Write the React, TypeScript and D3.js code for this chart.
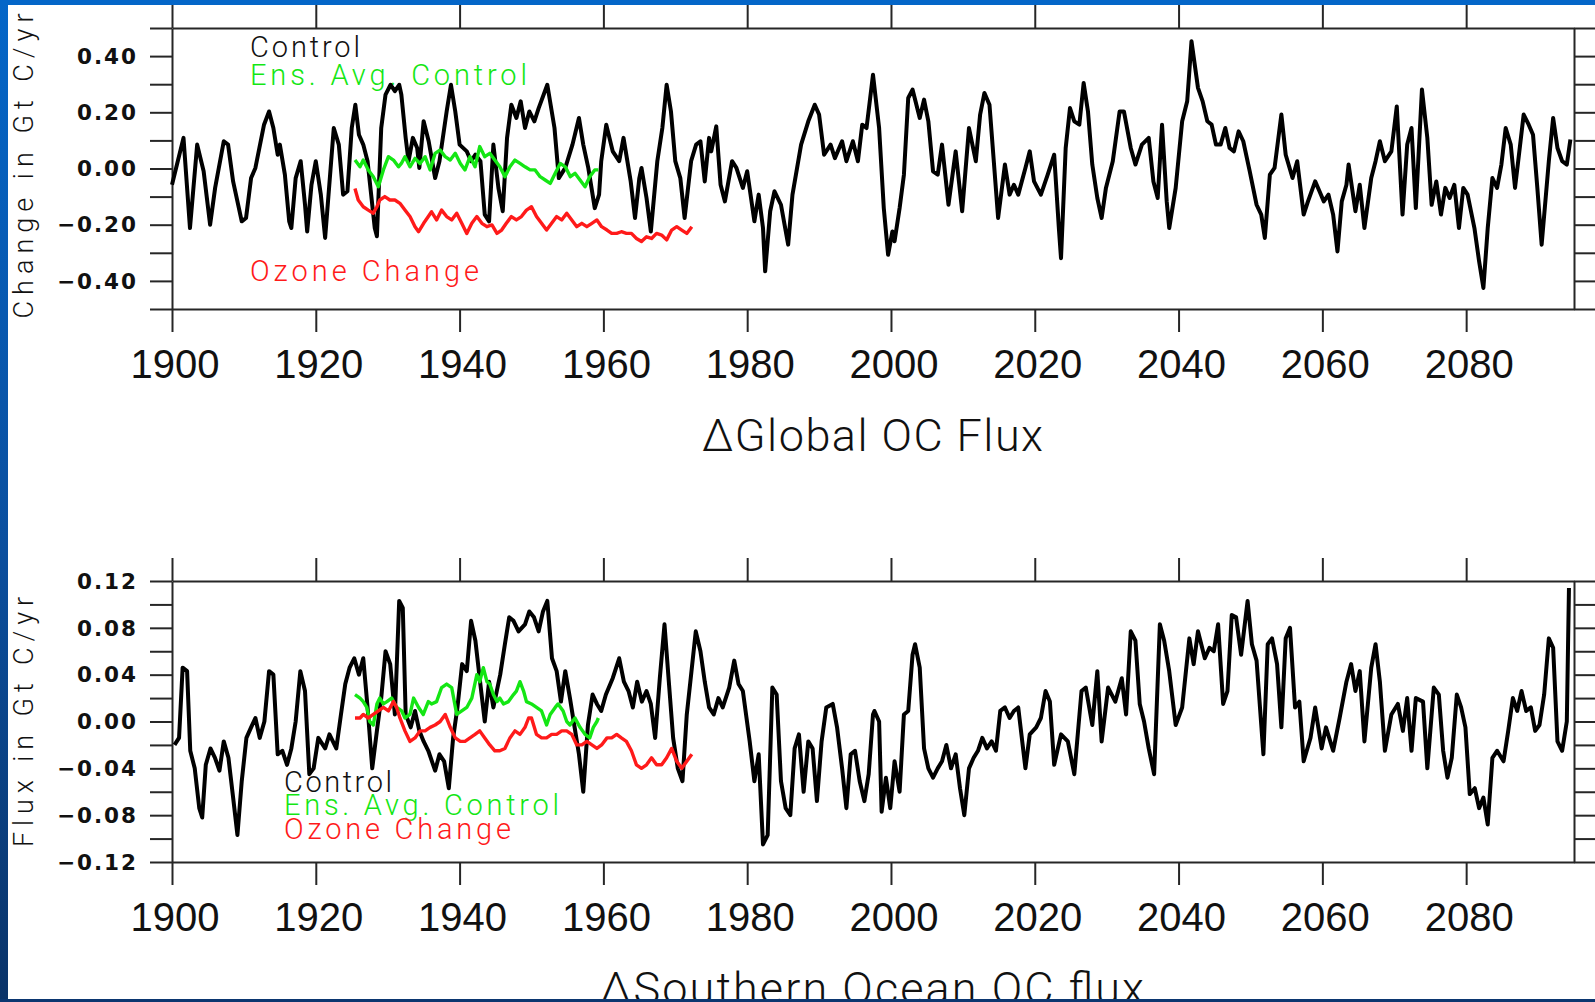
import { useEffect, useRef } from 'react';
import * as d3 from 'd3';

// ---- values ----
const yearTicks = [1900, 1920, 1940, 1960, 1980, 2000, 2020, 2040, 2060, 2080];

const globalTicks = [-0.5, -0.4, -0.3, -0.2, -0.1, 0, 0.1, 0.2, 0.3, 0.4, 0.5];
const globalLabels = [-0.4, -0.2, 0, 0.2, 0.4];
const southTicks = [-0.12, -0.1, -0.08, -0.06, -0.04, -0.02, 0, 0.02, 0.04, 0.06, 0.08, 0.1, 0.12];
const southLabels = [-0.12, -0.08, -0.04, 0, 0.04, 0.08, 0.12];

const globalControl = [
  [1900.0, -0.058], [1901.6, 0.109], [1902.5, -0.212], [1903.5, 0.085], [1904.4, -0.01], [1905.3, -0.2],
  [1906.0, -0.069], [1907.2, 0.097], [1907.8, 0.085], [1908.5, -0.046], [1909.7, -0.188], [1910.3, -0.176],
  [1911.0, -0.034], [1911.6, 0.002], [1912.8, 0.156], [1913.5, 0.203], [1914.1, 0.144], [1914.7, 0.049],
  [1915.0, 0.085], [1915.7, -0.022], [1916.3, -0.188], [1916.6, -0.212], [1917.2, -0.034], [1917.9, 0.026],
  [1918.5, -0.129], [1918.8, -0.224], [1919.4, -0.058], [1920.0, 0.026], [1920.7, -0.093], [1921.3, -0.247],
  [1922.5, 0.144], [1923.2, 0.085], [1923.8, -0.093], [1924.4, -0.081], [1925.0, 0.144], [1925.5, 0.227],
  [1926.0, 0.12], [1926.6, 0.085], [1927.2, 0.026], [1928.2, -0.212], [1928.5, -0.241], [1929.1, 0.144],
  [1929.7, 0.263], [1930.4, 0.298], [1931.0, 0.275], [1931.6, 0.298], [1931.9, 0.263], [1932.5, 0.109],
  [1932.9, 0.026], [1933.5, 0.109], [1934.1, 0.073], [1934.4, 0.002], [1935.0, 0.168], [1935.7, 0.097],
  [1936.6, -0.034], [1937.2, 0.026], [1938.2, 0.203], [1938.8, 0.298], [1939.4, 0.203], [1940.0, 0.085],
  [1941.0, 0.061], [1941.6, 0.026], [1942.2, 0.049], [1942.9, 0.026], [1943.5, -0.164], [1944.1, -0.188],
  [1944.7, 0.085], [1945.4, -0.069], [1946.0, -0.152], [1946.6, 0.109], [1947.2, 0.227], [1947.9, 0.18],
  [1948.5, 0.239], [1949.1, 0.144], [1949.7, 0.203], [1950.4, 0.168], [1951.0, 0.215], [1952.2, 0.298],
  [1953.2, 0.144], [1953.8, -0.034], [1954.7, 0.002], [1955.7, 0.085], [1956.6, 0.18], [1957.2, 0.085],
  [1957.9, 0.002], [1958.8, -0.141], [1959.4, -0.093], [1959.7, 0.026], [1960.4, 0.156], [1961.3, 0.061],
  [1962.2, 0.026], [1962.8, 0.109], [1963.8, -0.046], [1964.4, -0.176], [1965.0, -0.034], [1965.3, 0.002],
  [1966.0, -0.105], [1966.6, -0.224], [1967.5, 0.026], [1968.2, 0.144], [1968.8, 0.298], [1969.4, 0.203],
  [1970.0, 0.026], [1970.7, -0.034], [1971.3, -0.176], [1972.2, 0.026], [1972.9, 0.085], [1973.5, 0.097],
  [1974.1, -0.046], [1974.7, 0.109], [1975.0, 0.061], [1975.7, 0.15], [1976.3, -0.058], [1976.9, -0.117],
  [1977.9, 0.026], [1978.5, 0.002], [1979.4, -0.069], [1980.0, -0.01], [1981.0, -0.188], [1981.6, -0.093],
  [1982.2, -0.212], [1982.5, -0.366], [1983.2, -0.152], [1983.8, -0.081], [1984.7, -0.129], [1985.7, -0.271],
  [1986.3, -0.093], [1987.5, 0.085], [1988.5, 0.168], [1989.4, 0.227], [1990.0, 0.192], [1990.7, 0.049],
  [1991.6, 0.085], [1992.2, 0.037], [1993.2, 0.097], [1993.8, 0.026], [1994.7, 0.097], [1995.4, 0.026],
  [1996.0, 0.156], [1996.6, 0.144], [1997.5, 0.334], [1998.35, 0.144], [1999.0, -0.141], [1999.6, -0.307],
  [2000.2, -0.224], [2000.5, -0.259], [2001.2, -0.141], [2001.8, -0.022], [2002.4, 0.251], [2003.0, 0.281],
  [2004.0, 0.18], [2004.6, 0.245], [2005.2, 0.168], [2005.85, -0.01], [2006.5, -0.022], [2007.1, 0.085],
  [2008.0, -0.129], [2009.0, 0.061], [2009.9, -0.152], [2010.85, 0.144], [2011.8, 0.026], [2012.4, 0.192],
  [2013.0, 0.269], [2013.7, 0.227], [2014.3, 0.026], [2014.9, -0.176], [2015.85, 0.014], [2016.5, -0.093],
  [2017.1, -0.058], [2017.7, -0.093], [2018.7, 0.002], [2019.3, 0.061], [2019.9, -0.046], [2020.85, -0.093],
  [2021.8, -0.022], [2022.7, 0.049], [2023.35, -0.212], [2023.65, -0.319], [2024.3, 0.073], [2024.9, 0.215],
  [2025.5, 0.168], [2026.2, 0.156], [2026.8, 0.304], [2027.4, 0.203], [2028.0, 0.014], [2028.7, -0.105],
  [2029.3, -0.176], [2029.9, -0.069], [2030.85, 0.026], [2031.8, 0.203], [2032.4, 0.203], [2033.35, 0.073],
  [2034.0, 0.014], [2034.9, 0.085], [2035.85, 0.109], [2036.5, -0.046], [2037.1, -0.105], [2037.7, 0.156],
  [2038.35, -0.117], [2038.7, -0.212], [2039.6, -0.069], [2040.5, 0.168], [2041.2, 0.239], [2041.8, 0.453],
  [2042.7, 0.287], [2043.35, 0.239], [2044.0, 0.168], [2044.6, 0.156], [2045.2, 0.085], [2045.85, 0.085],
  [2046.5, 0.144], [2047.1, 0.073], [2047.7, 0.061], [2048.35, 0.132], [2049.0, 0.097], [2049.9, -0.01],
  [2050.85, -0.129], [2051.5, -0.164], [2052.0, -0.247], [2052.7, -0.022], [2053.35, 0.002], [2054.3, 0.192],
  [2054.9, 0.049], [2055.85, -0.034], [2056.5, 0.026], [2057.4, -0.164], [2058.0, -0.117], [2059.0, -0.046],
  [2059.6, -0.081], [2060.2, -0.117], [2060.85, -0.093], [2061.5, -0.164], [2062.1, -0.295], [2062.7, -0.117],
  [2063.35, -0.058], [2063.65, 0.014], [2064.6, -0.152], [2065.2, -0.058], [2065.85, -0.212], [2066.8, -0.034],
  [2067.4, 0.026], [2068.0, 0.097], [2068.7, 0.026], [2069.6, 0.061], [2070.35, 0.221], [2071.15, -0.164],
  [2071.8, 0.085], [2072.4, 0.144], [2073.0, -0.141], [2073.85, 0.281], [2074.6, 0.109], [2075.2, -0.129],
  [2075.85, -0.046], [2076.5, -0.164], [2077.1, -0.069], [2077.7, -0.105], [2078.35, -0.058], [2079.0, -0.212],
  [2079.6, -0.069], [2080.2, -0.093], [2081.15, -0.212], [2081.8, -0.33], [2082.4, -0.425], [2083.0, -0.212],
  [2083.65, -0.034], [2084.3, -0.069], [2084.9, 0.014], [2085.5, 0.144], [2086.2, 0.085], [2086.8, -0.069],
  [2087.4, 0.061], [2088.0, 0.192], [2088.7, 0.156], [2089.3, 0.12], [2089.9, -0.069], [2090.5, -0.271],
  [2091.5, 0.026], [2092.1, 0.18], [2092.7, 0.073], [2093.35, 0.026], [2094.0, 0.014], [2094.5, 0.103],
];

const globalEnsAvg = [
  [1925.45, 0.03], [1926.15, 0.006], [1926.6, 0.03], [1927.3, -0.005], [1928.0, -0.029], [1928.7, -0.065],
  [1929.4, -0.005], [1930.1, 0.042], [1930.8, 0.03], [1931.5, 0.006], [1931.9, 0.018], [1932.4, 0.042],
  [1933.1, 0.006], [1933.8, 0.036], [1934.5, 0.018], [1935.2, 0.042], [1935.9, -0.005], [1936.6, 0.054],
  [1937.3, 0.066], [1938.0, 0.042], [1938.7, 0.03], [1939.4, 0.054], [1940.1, 0.018], [1940.75, -0.005],
  [1941.45, 0.042], [1942.15, 0.006], [1942.8, 0.078], [1943.5, 0.042], [1944.2, 0.054], [1944.9, 0.03],
  [1945.6, 0.006], [1946.3, -0.029], [1947.0, 0.006], [1947.7, 0.03], [1948.4, 0.018], [1949.1, 0.006],
  [1949.8, -0.005], [1950.5, -0.005], [1951.2, -0.029], [1951.9, -0.041], [1952.6, -0.053], [1953.3, -0.017],
  [1954.0, 0.018], [1954.7, 0.006], [1955.4, -0.029], [1956.05, -0.017], [1956.75, -0.041], [1957.45, -0.065],
  [1958.1, -0.029], [1958.8, -0.005], [1959.3, -0.005],
];

const globalOzone = [
  [1925.45, -0.071], [1925.9, -0.112], [1926.6, -0.136], [1927.3, -0.148], [1928.0, -0.159], [1928.5, -0.136],
  [1928.9, -0.112], [1929.6, -0.1], [1930.3, -0.112], [1931.0, -0.112], [1931.7, -0.124], [1932.4, -0.148],
  [1933.1, -0.171], [1933.8, -0.207], [1934.3, -0.225], [1935.0, -0.195], [1935.65, -0.171], [1936.1, -0.154],
  [1936.8, -0.183], [1937.5, -0.148], [1938.2, -0.171], [1938.9, -0.183], [1939.6, -0.159], [1940.3, -0.195],
  [1941.0, -0.231], [1941.7, -0.195], [1942.4, -0.171], [1943.1, -0.195], [1943.8, -0.207], [1944.5, -0.201],
  [1945.2, -0.231], [1945.85, -0.219], [1946.5, -0.195], [1947.2, -0.171], [1947.9, -0.183], [1948.6, -0.171],
  [1949.3, -0.148], [1950.0, -0.136], [1950.7, -0.171], [1951.4, -0.195], [1952.1, -0.219], [1952.8, -0.195],
  [1953.5, -0.171], [1954.2, -0.183], [1954.9, -0.159], [1955.6, -0.183], [1956.3, -0.207], [1957.0, -0.195],
  [1957.7, -0.207], [1958.4, -0.195], [1959.1, -0.183], [1959.75, -0.207], [1960.5, -0.219], [1961.15, -0.231],
  [1961.85, -0.231], [1962.5, -0.225], [1963.2, -0.231], [1963.9, -0.231], [1964.6, -0.249], [1965.3, -0.26],
  [1966.0, -0.243], [1966.7, -0.249], [1967.4, -0.231], [1968.1, -0.237], [1968.8, -0.254], [1969.5, -0.219],
  [1970.2, -0.207], [1970.9, -0.219], [1971.6, -0.231], [1972.3, -0.207],
];

const southControl = [
  [1900.35, -0.02], [1900.98, -0.014], [1901.48, 0.046], [1902.1, 0.043], [1902.54, -0.025], [1903.16, -0.04],
  [1903.79, -0.074], [1904.2, -0.082], [1904.7, -0.037], [1905.35, -0.023], [1905.98, -0.031], [1906.6, -0.042],
  [1907.2, -0.017], [1907.85, -0.031], [1908.5, -0.065], [1909.1, -0.097], [1909.7, -0.051], [1910.35, -0.014],
  [1911.0, -0.005], [1911.6, 0.003], [1912.2, -0.014], [1912.85, 0.0], [1913.5, 0.043], [1914.1, 0.04],
  [1914.7, -0.028], [1915.35, -0.025], [1916.0, -0.037], [1916.6, -0.023], [1917.2, 0.0], [1917.85, 0.043],
  [1918.5, 0.026], [1919.1, -0.045], [1919.7, -0.04], [1920.35, -0.014], [1921.3, -0.023], [1921.9, -0.011],
  [1922.85, -0.023], [1923.5, 0.006], [1924.1, 0.032], [1924.7, 0.046], [1925.35, 0.054], [1926.0, 0.04],
  [1926.6, 0.054], [1927.2, 0.012], [1927.85, -0.04], [1928.5, -0.008], [1929.1, 0.02], [1929.7, 0.06],
  [1930.35, 0.049], [1931.0, 0.006], [1931.6, 0.103], [1932.1, 0.097], [1932.5, 0.006], [1933.2, -0.005],
  [1933.8, 0.009], [1934.4, -0.008], [1935.0, -0.017], [1935.65, -0.025], [1936.6, -0.042], [1937.2, -0.028],
  [1937.85, -0.034], [1938.5, -0.057], [1939.1, -0.014], [1939.7, 0.012], [1940.35, 0.049], [1941.0, 0.043],
  [1941.6, 0.086], [1942.2, 0.069], [1942.85, 0.034], [1943.5, 0.0], [1944.1, 0.034], [1944.7, 0.012],
  [1945.65, 0.04], [1946.3, 0.066], [1946.9, 0.089], [1947.5, 0.086], [1948.2, 0.077], [1949.1, 0.083],
  [1949.7, 0.094], [1950.35, 0.089], [1951.0, 0.077], [1951.6, 0.094], [1952.2, 0.103], [1952.85, 0.054],
  [1953.5, 0.043], [1954.1, 0.017], [1954.7, 0.043], [1955.35, 0.02], [1956.0, -0.005], [1956.6, -0.028],
  [1957.2, -0.06], [1957.85, -0.003], [1958.5, 0.023], [1959.1, 0.015], [1959.7, 0.009], [1960.35, 0.023],
  [1961.3, 0.037], [1962.2, 0.054], [1962.85, 0.034], [1963.5, 0.026], [1964.1, 0.012], [1964.7, 0.034],
  [1965.35, 0.017], [1966.0, 0.026], [1966.6, 0.015], [1967.2, -0.014], [1967.85, 0.037], [1968.5, 0.083],
  [1969.1, 0.034], [1969.7, -0.014], [1970.35, -0.04], [1971.0, -0.051], [1971.6, 0.006], [1972.2, 0.04],
  [1972.85, 0.077], [1973.5, 0.06], [1974.1, 0.034], [1974.7, 0.012], [1975.35, 0.006], [1976.0, 0.02],
  [1976.6, 0.012], [1977.5, 0.029], [1978.2, 0.052], [1978.8, 0.032], [1979.4, 0.026], [1980.35, -0.017],
  [1981.0, -0.051], [1981.6, -0.028], [1982.2, -0.105], [1982.85, -0.097], [1983.5, 0.029], [1984.1, 0.023],
  [1984.7, -0.051], [1985.35, -0.074], [1986.0, -0.08], [1986.6, -0.023], [1987.2, -0.011], [1987.85, -0.06],
  [1988.5, -0.017], [1989.1, -0.023], [1989.7, -0.068], [1990.35, -0.017], [1991.0, 0.012], [1991.9, 0.015],
  [1992.5, -0.005], [1993.2, -0.04], [1993.8, -0.074], [1994.4, -0.028], [1995.0, -0.025], [1995.65, -0.051],
  [1996.3, -0.068], [1996.9, -0.045], [1997.5, 0.006], [1997.7, 0.009], [1998.35, 0.0], [1998.7, -0.077],
  [1999.3, -0.048], [1999.9, -0.074], [2000.5, -0.034], [2001.2, -0.06], [2001.8, 0.006], [2002.4, 0.009],
  [2003.0, 0.057], [2003.35, 0.066], [2004.0, 0.046], [2004.6, -0.023], [2005.2, -0.04], [2005.85, -0.048],
  [2006.5, -0.04], [2007.1, -0.034], [2007.7, -0.02], [2008.35, -0.04], [2009.0, -0.028], [2009.6, -0.057],
  [2010.2, -0.08], [2010.85, -0.04], [2011.5, -0.031], [2012.1, -0.025], [2012.7, -0.014], [2013.35, -0.023],
  [2014.0, -0.017], [2014.6, -0.025], [2015.2, 0.009], [2015.85, 0.012], [2016.5, 0.003], [2017.1, 0.009],
  [2017.7, 0.012], [2018.7, -0.04], [2019.3, -0.011], [2020.2, -0.005], [2020.85, 0.003], [2021.5, 0.026],
  [2022.1, 0.017], [2022.7, -0.037], [2023.65, -0.011], [2024.6, -0.017], [2025.5, -0.045], [2026.5, 0.026],
  [2027.1, 0.029], [2028.0, -0.003], [2028.7, 0.043], [2029.3, -0.017], [2030.2, 0.029], [2031.2, 0.017],
  [2032.1, 0.037], [2032.7, 0.006], [2033.35, 0.077], [2034.0, 0.069], [2034.6, 0.015], [2035.2, 0.0],
  [2035.85, -0.023], [2036.6, -0.045], [2037.4, 0.083], [2038.0, 0.069], [2038.7, 0.043], [2039.6, -0.003],
  [2040.5, 0.012], [2041.5, 0.071], [2042.1, 0.049], [2042.7, 0.077], [2043.65, 0.054], [2044.3, 0.063],
  [2044.9, 0.06], [2045.5, 0.083], [2046.2, 0.015], [2046.8, 0.026], [2047.4, 0.091], [2048.0, 0.089],
  [2048.7, 0.057], [2049.6, 0.103], [2050.2, 0.066], [2050.85, 0.052], [2051.8, -0.028], [2052.4, 0.066],
  [2053.0, 0.071], [2053.7, 0.049], [2054.3, -0.005], [2054.9, 0.071], [2055.5, 0.08], [2056.2, 0.012],
  [2056.8, 0.017], [2057.4, -0.034], [2058.35, -0.014], [2059.0, 0.012], [2059.9, -0.023], [2060.5, -0.005],
  [2061.5, -0.025], [2062.4, 0.003], [2063.35, 0.034], [2064.0, 0.049], [2064.6, 0.026], [2065.2, 0.043],
  [2065.85, -0.017], [2066.8, 0.046], [2067.4, 0.066], [2068.0, 0.034], [2068.7, -0.025], [2069.6, 0.006],
  [2070.5, 0.015], [2071.2, -0.008], [2071.8, 0.02], [2072.4, -0.025], [2073.0, 0.02], [2074.0, 0.017],
  [2074.6, -0.04], [2075.5, 0.029], [2076.2, 0.023], [2076.8, -0.025], [2077.4, -0.048], [2078.0, -0.031],
  [2078.7, 0.023], [2079.3, 0.012], [2079.9, -0.005], [2080.5, -0.062], [2081.2, -0.057], [2081.8, -0.074],
  [2082.4, -0.065], [2083.0, -0.088], [2083.65, -0.031], [2084.3, -0.025], [2085.2, -0.034], [2085.85, -0.008],
  [2086.5, 0.02], [2087.1, 0.009], [2087.7, 0.026], [2088.35, 0.009], [2089.0, 0.012], [2089.6, -0.008],
  [2090.2, -0.003], [2090.85, 0.023], [2091.5, 0.071], [2092.1, 0.063], [2092.7, -0.017], [2093.35, -0.025],
  [2094.0, 0.0], [2094.3, 0.114],
];

const southEnsAvg = [
  [1925.45, 0.023], [1926.15, 0.02], [1926.6, 0.017], [1927.1, 0.012], [1927.5, 0.0], [1928.0, -0.003],
  [1928.5, 0.015], [1928.9, 0.02], [1929.4, 0.015], [1929.9, 0.017], [1930.55, 0.02], [1931.25, 0.012],
  [1931.95, 0.009], [1932.4, 0.003], [1933.1, 0.006], [1933.6, 0.02], [1934.3, 0.012], [1934.95, 0.006],
  [1935.65, 0.017], [1936.1, 0.015], [1936.8, 0.017], [1937.5, 0.029], [1938.2, 0.032], [1938.9, 0.029],
  [1939.6, 0.006], [1940.3, 0.009], [1941.0, 0.012], [1941.7, 0.02], [1942.4, 0.04], [1942.8, 0.034],
  [1943.3, 0.046], [1943.8, 0.034], [1944.2, 0.032], [1944.7, 0.023], [1945.2, 0.017], [1945.6, 0.02],
  [1946.1, 0.015], [1946.8, 0.017], [1947.5, 0.023], [1947.9, 0.026], [1948.4, 0.034], [1948.9, 0.026],
  [1949.3, 0.017], [1950.0, 0.015], [1950.7, 0.012], [1951.4, 0.009], [1952.1, -0.003], [1952.6, 0.006],
  [1953.3, 0.012], [1953.7, 0.015], [1954.4, 0.009], [1954.9, 0.0], [1955.35, -0.003], [1956.05, 0.003],
  [1956.75, -0.005], [1957.45, -0.011], [1958.1, -0.014], [1958.6, -0.005], [1959.1, 0.0], [1959.3, 0.003],
];

const southOzone = [
  [1925.45, 0.003], [1926.15, 0.003], [1926.6, 0.006], [1927.3, 0.003], [1928.0, 0.006], [1928.7, 0.009],
  [1929.4, 0.012], [1930.1, 0.009], [1930.8, 0.017], [1931.25, 0.012], [1931.7, 0.003], [1932.4, -0.008],
  [1933.1, -0.017], [1933.8, -0.014], [1934.5, -0.008], [1935.2, -0.008], [1935.9, -0.005], [1936.6, -0.003],
  [1937.3, 0.0], [1938.0, 0.006], [1938.7, -0.005], [1939.4, -0.014], [1940.1, -0.017], [1940.75, -0.017],
  [1941.45, -0.014], [1942.15, -0.011], [1942.8, -0.008], [1943.5, -0.014], [1944.2, -0.02], [1944.9, -0.025],
  [1945.6, -0.025], [1946.3, -0.023], [1947.0, -0.014], [1947.7, -0.008], [1948.4, -0.011], [1949.1, -0.005],
  [1949.6, 0.003], [1950.0, 0.003], [1950.7, -0.011], [1951.4, -0.014], [1952.1, -0.014], [1952.8, -0.011],
  [1953.5, -0.011], [1954.2, -0.008], [1954.9, -0.008], [1955.6, -0.011], [1956.3, -0.02], [1957.0, -0.02],
  [1957.7, -0.017], [1958.4, -0.02], [1959.1, -0.023], [1959.75, -0.02], [1960.5, -0.014], [1961.15, -0.014],
  [1961.85, -0.011], [1962.5, -0.014], [1963.2, -0.017], [1963.9, -0.025], [1964.6, -0.037], [1965.3, -0.04],
  [1966.0, -0.037], [1966.7, -0.031], [1967.4, -0.037], [1968.1, -0.037], [1968.8, -0.031], [1969.5, -0.023],
  [1970.2, -0.034], [1970.9, -0.04], [1971.6, -0.034], [1972.3, -0.028],
];

const legendNames = ['Control', 'Ens. Avg. Control', 'Ozone Change'];

const W = 1595;
const H = 1002;
const GREEN = '#14e614';
const RED = '#ff1a1a';
const AXIS = '#262626';
const THIN_FONT = 'Roboto, "Liberation Sans", sans-serif';

function drawPanel(svg, cfg) {
  const x = d3.scaleLinear().domain([1900, 2095]).range([172, 1574]);
  const y = d3.scaleLinear().domain(cfg.domain).range([cfg.bottom, cfg.top]);
  const g = svg.append('g');

  const styleAxis = (sel) => {
    sel.selectAll('path, line').attr('stroke', AXIS).attr('stroke-width', 2);
    sel.selectAll('text').remove();
  };

  g.append('g').attr('transform', `translate(172,0)`)
    .call(d3.axisLeft(y).tickValues(cfg.ticks).tickSize(22).tickSizeOuter(0).tickFormat(() => ''))
    .call(styleAxis);
  g.append('g').attr('transform', `translate(1574,0)`)
    .call(d3.axisRight(y).tickValues(cfg.ticks).tickSize(22).tickSizeOuter(0).tickFormat(() => ''))
    .call(styleAxis);
  g.append('g').attr('transform', `translate(0,${cfg.bottom})`)
    .call(d3.axisBottom(x).tickValues(yearTicks).tickSize(23).tickSizeOuter(0).tickFormat(() => ''))
    .call(styleAxis);
  g.append('g').attr('transform', `translate(0,${cfg.top})`)
    .call(d3.axisTop(x).tickValues(yearTicks).tickSize(23).tickSizeOuter(0).tickFormat(() => ''))
    .call(styleAxis);

  // y tick labels
  const fmt = d3.format('.2f');
  g.append('g').selectAll('text')
    .data(cfg.labels)
    .join('text')
    .attr('x', 138)
    .attr('y', d => y(d))
    .attr('dy', '0.36em')
    .attr('text-anchor', 'end')
    .style('font-family', '"DejaVu Sans", sans-serif')
    .style('font-weight', 'bold')
    .style('font-size', '21.5px')
    .style('letter-spacing', '2px')
    .attr('fill', '#111')
    .text(d => fmt(d));

  // x tick labels
  g.append('g').selectAll('text')
    .data(yearTicks)
    .join('text')
    .attr('x', d => x(d) + 3)
    .attr('y', cfg.bottom + 69)
    .attr('text-anchor', 'middle')
    .style('font-family', '"Liberation Sans", Arial, sans-serif')
    .style('font-size', '40px')
    .attr('fill', '#111')
    .text(d => d);

  // y axis title
  g.append('text')
    .attr('transform', `translate(33,${cfg.ytitleY}) rotate(-90)`)
    .attr('text-anchor', 'middle')
    .attr('textLength', cfg.ytitleLen)
    .attr('lengthAdjust', 'spacing')
    .style('font-family', THIN_FONT)
    .style('font-weight', 300)
    .style('font-size', '27px')
    .attr('fill', '#111')
    .text(cfg.ytitle);

  // legend
  const colors = ['#111', GREEN, RED];
  legendNames.forEach((name, i) => {
    const it = cfg.legend[i];
    g.append('text')
      .attr('x', it.x)
      .attr('y', it.y)
      .attr('textLength', it.len)
      .attr('lengthAdjust', 'spacing')
      .style('font-family', THIN_FONT)
      .style('font-weight', 300)
      .style('font-size', '29px')
      .attr('fill', colors[i])
      .text(name);
  });

  const line = d3.line().x(d => x(d[0])).y(d => y(d[1]));
  g.append('path').datum(cfg.control).attr('d', line)
    .attr('fill', 'none').attr('stroke', '#000').attr('stroke-width', 4)
    .attr('stroke-linejoin', 'round');
  g.append('path').datum(cfg.ens).attr('d', line)
    .attr('fill', 'none').attr('stroke', GREEN).attr('stroke-width', 3.4)
    .attr('stroke-linejoin', 'round');
  g.append('path').datum(cfg.ozone).attr('d', line)
    .attr('fill', 'none').attr('stroke', RED).attr('stroke-width', 3.4)
    .attr('stroke-linejoin', 'round');

  // panel title
  g.append('text')
    .attr('x', cfg.titleX)
    .attr('y', cfg.titleY)
    .attr('textLength', cfg.titleLen)
    .attr('lengthAdjust', 'spacing')
    .style('font-family', THIN_FONT)
    .style('font-weight', 300)
    .style('font-size', '45px')
    .attr('fill', '#111')
    .text(cfg.title);
}

export default function App() {
  const svgRef = useRef(null);

  useEffect(() => {
    const svg = d3.select(svgRef.current);
    svg.selectAll('*').remove();
    svg.attr('width', W).attr('height', H);

    const defs = svg.append('defs');
    const grad = defs.append('linearGradient').attr('id', 'slide-bg')
      .attr('x1', 0).attr('y1', 0).attr('x2', 0).attr('y2', 1);
    grad.append('stop').attr('offset', '0%').attr('stop-color', '#0466c8');
    grad.append('stop').attr('offset', '55%').attr('stop-color', '#0b4f9e');
    grad.append('stop').attr('offset', '100%').attr('stop-color', '#0a3368');

    svg.append('rect').attr('width', W).attr('height', H).attr('fill', 'url(#slide-bg)');
    svg.append('rect').attr('x', 8).attr('y', 5).attr('width', W - 8).attr('height', 994).attr('fill', '#fff');

    drawPanel(svg, {
      domain: [-0.5, 0.5], top: 28, bottom: 309,
      ticks: globalTicks, labels: globalLabels,
      control: globalControl, ens: globalEnsAvg, ozone: globalOzone,
      ytitle: 'Change in Gt C/yr', ytitleY: 166, ytitleLen: 305,
      title: '\u0394Global OC Flux', titleX: 702, titleY: 451, titleLen: 341,
      legend: [
        { x: 250, y: 57, len: 110 },
        { x: 250, y: 84.5, len: 277 },
        { x: 250, y: 281, len: 229 },
      ],
    });

    drawPanel(svg, {
      domain: [-0.12, 0.12], top: 581, bottom: 862,
      ticks: southTicks, labels: southLabels,
      control: southControl, ens: southEnsAvg, ozone: southOzone,
      ytitle: 'Flux in Gt C/yr', ytitleY: 722, ytitleLen: 250,
      title: '\u0394Southern Ocean OC flux', titleX: 600, titleY: 1004, titleLen: 544,
      legend: [
        { x: 284, y: 791.5, len: 108 },
        { x: 284, y: 815, len: 275 },
        { x: 284, y: 838.5, len: 227 },
      ],
    });

    // slide frame drawn over the figure edges
    svg.append('rect').attr('x', 0).attr('y', 999).attr('width', W).attr('height', H - 999).attr('fill', '#0b3670');
    svg.append('rect').attr('x', 0).attr('y', 0).attr('width', W).attr('height', 5).attr('fill', '#0466c8');
  }, []);

  return <svg ref={svgRef} style={{ position: 'absolute', left: 0, top: 0, display: 'block' }}></svg>;
}
